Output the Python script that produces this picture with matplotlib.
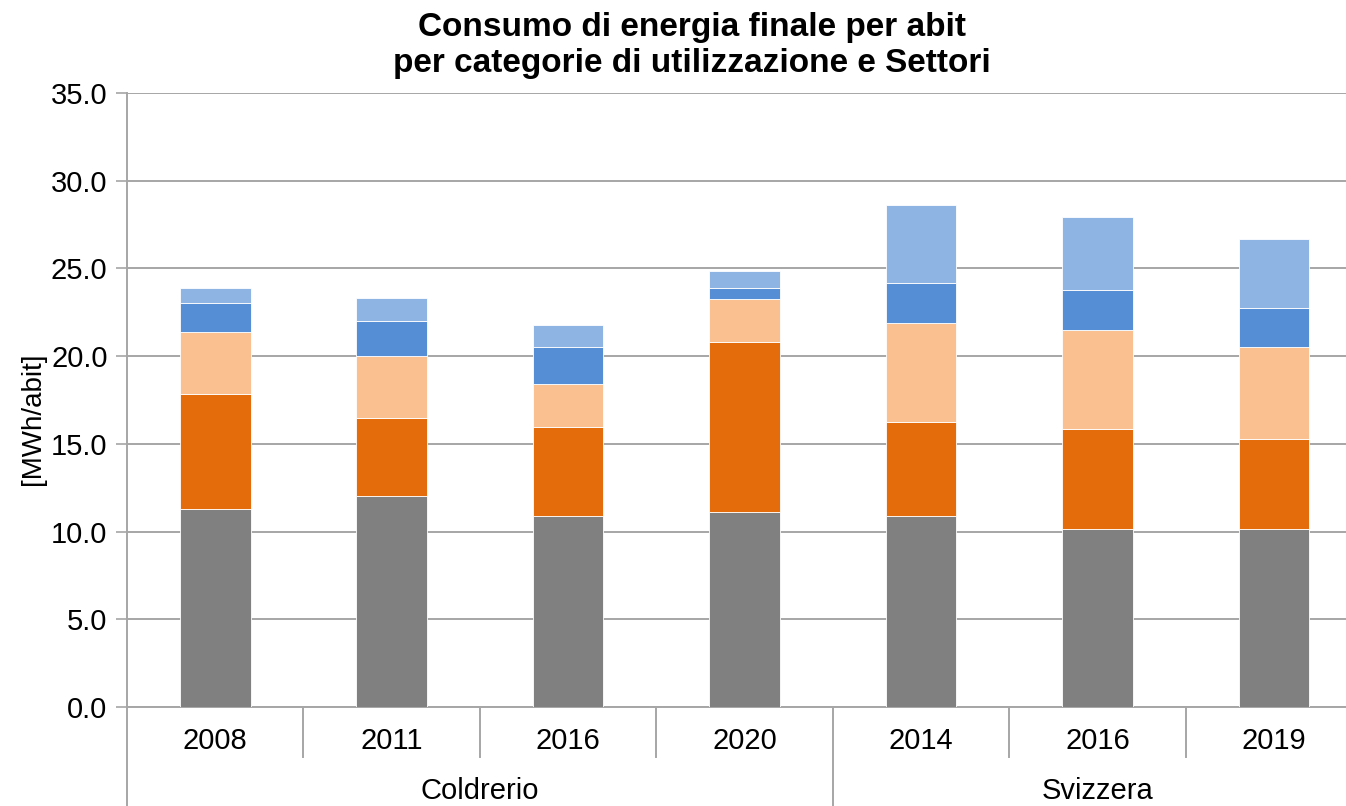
import matplotlib.pyplot as plt
import numpy as np

plt.rcParams['font.family'] = ['Liberation Sans', 'DejaVu Sans']

years = ["2008", "2011", "2016", "2020", "2014", "2016", "2019"]
groups = ["Coldrerio", "Svizzera"]
group_sizes = [4, 3]

# stacked layers, bottom to top
layer1 = [11.3, 12.05, 10.9, 11.1, 10.9, 10.15, 10.15]
layer2 = [6.55, 4.42, 5.06, 9.7, 5.35, 5.7, 5.12]
layer3 = [3.53, 3.55, 2.45, 2.45, 5.65, 5.63, 5.25]
layer4 = [1.63, 1.98, 2.11, 0.62, 2.27, 2.28, 2.22]
layer5 = [0.87, 1.31, 1.26, 0.97, 4.45, 4.15, 3.94]

layers = [layer1, layer2, layer3, layer4, layer5]
colors = ["#808080", "#E46C0A", "#FAC090", "#558ED5", "#8EB4E3"]

fig = plt.figure(figsize=(13.46, 8.06), dpi=100)
ax = fig.add_axes([0.0944, 0.1228, 0.9175, 0.7618])

x = np.arange(len(years))
bottom = np.zeros(len(years))
for vals, c in zip(layers, colors):
    ax.bar(x, vals, width=0.4, bottom=bottom, color=c, edgecolor="white",
           linewidth=0.6, zorder=3)
    bottom += np.array(vals)

ax.set_xlim(-0.5, len(years) - 0.5)
ax.set_ylim(0, 35)
ax.set_yticks(np.arange(0, 35.1, 5))
ax.set_yticklabels([f"{v:.1f}" for v in np.arange(0, 35.1, 5)], fontsize=21)
ax.yaxis.grid(True, color="#A6A6A6", linewidth=1.4, zorder=0)
ax.tick_params(axis="y", length=8, width=1.2, color="#A6A6A6", pad=6)
ax.set_xticks([])

for side in ["top", "right"]:
    ax.spines[side].set_visible(False)
for side in ["left", "bottom"]:
    ax.spines[side].set_color("#A6A6A6")
    ax.spines[side].set_linewidth(1.4)

fig.text(0.0245, 0.481, "[MWh/abit]", rotation=90, fontsize=20,
         ha="center", va="center")

# category labels and separators below the axis
trans = ax.get_xaxis_transform()
for i, yr in enumerate(years):
    ax.text(i, -0.055, yr, transform=trans, ha="center", va="center", fontsize=21)

edges = np.cumsum([0] + group_sizes) - 0.5
for b in np.arange(-0.5, len(years) + 0.5, 1.0):
    if np.any(np.isclose(b, edges)):
        ax.plot([b, b], [0, -0.17], transform=trans, color="#A6A6A6", lw=1.4, clip_on=False)
    else:
        ax.plot([b, b], [0, -0.082], transform=trans, color="#A6A6A6", lw=1.4, clip_on=False)

for g, lo, hi in zip(groups, edges[:-1], edges[1:]):
    ax.text((lo + hi) / 2, -0.136, g, transform=trans, ha="center", va="center", fontsize=21)

fig.text(0.514, 0.9553, "Consumo di energia finale per abit", fontsize=24,
         fontweight="bold", ha="center", va="baseline")
fig.text(0.514, 0.9107, "per categorie di utilizzazione e Settori", fontsize=24,
         fontweight="bold", ha="center", va="baseline")

fig.savefig("out.png", dpi=100)
